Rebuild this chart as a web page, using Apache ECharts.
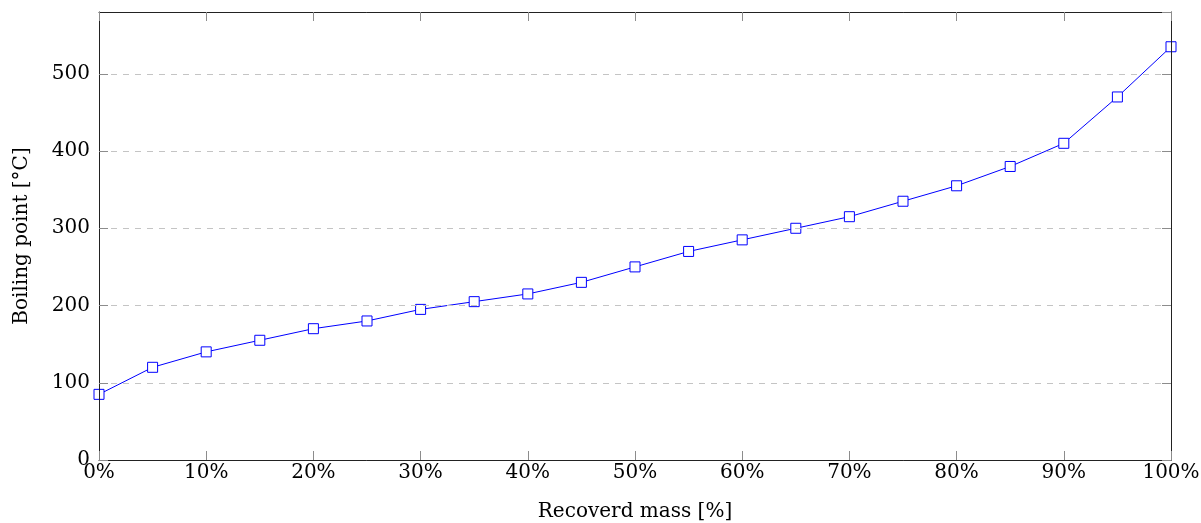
<!DOCTYPE html>
<html>
<head>
<meta charset="utf-8">
<script src="https://cdn.jsdelivr.net/npm/echarts@6/dist/echarts.min.js"></script>
<style>html,body{margin:0;padding:0;background:#fff;}#c{width:1201px;height:523px;}</style>
</head>
<body>
<div id="c"></div>
<script>
var massPct = [0,5,10,15,20,25,30,35,40,45,50,55,60,65,70,75,80,85,90,95,100];
var boilingPoint = [85,120,140,155,170,180,195,205,215,230,250,270,285,300,315,335,355,380,410,470,535];
var xTitle = 'Recoverd mass [%]';
var yTitle = 'Boiling point [°C]';

var font = 'DejaVu Serif';
var W = 1201, H = 523, L = 99, R = 30, T = 12, B = 63, TK = 9;
var chart = echarts.init(document.getElementById('c'), null, {renderer:'canvas'});
var data = massPct.map(function(x,i){return [x, boilingPoint[i]];});
function tickStyle(){ return {show:true, inside:true, length:TK, lineStyle:{color:'#8c8c8c', width:1}}; }
function lineStyle(){ return {show:true, onZero:false, lineStyle:{color:'#222', width:1}}; }
function hidden(type, gi, max){
  return {type:type, gridIndex:gi, min:0, max:max, show:false};
}
chart.setOption({
  animation:false,
  backgroundColor:'#fff',
  grid:[
    {left:L, right:R, top:T, bottom:B, containLabel:false, outerBoundsMode:'none'},
    {left:L, right:R, top:H-B-TK, height:TK, containLabel:false, outerBoundsMode:'none'}
  ],
  xAxis:[{
    type:'value', min:0, max:100, interval:10, position:'bottom',
    name:xTitle, nameLocation:'middle', nameGap:42,
    nameTextStyle:{fontFamily:font, fontSize:20, color:'#000'},
    axisLine:lineStyle(),
    axisTick:tickStyle(),
    axisLabel:{formatter:'{value}%', fontFamily:font, fontSize:20, color:'#000', margin:3},
    splitLine:{show:false}, z:5
  },{
    type:'value', min:0, max:100, interval:10, position:'top',
    axisLine:lineStyle(),
    axisTick:tickStyle(), axisLabel:{show:false}, splitLine:{show:false}, z:5
  },{
    type:'value', gridIndex:1, min:0, max:100, interval:10, position:'top',
    axisLine:{show:false, onZero:false},
    axisTick:tickStyle(), axisLabel:{show:false}, splitLine:{show:false}, z:5
  }],
  yAxis:[{
    type:'value', min:0, max:580, interval:100, position:'left',
    name:yTitle, nameLocation:'middle', nameGap:67, nameRotate:90,
    nameTextStyle:{fontFamily:font, fontSize:20, color:'#000'},
    axisLine:lineStyle(),
    axisTick:tickStyle(),
    axisLabel:{fontFamily:font, fontSize:20, color:'#000', margin:9, showMaxLabel:false},
    splitLine:{show:true, lineStyle:{color:'#c4c4c4', width:1, type:[6,6]}}, z:5
  },{
    type:'value', min:0, max:580, interval:100, position:'right',
    axisLine:lineStyle(),
    axisTick:tickStyle(), axisLabel:{show:false}, splitLine:{show:false}, z:5
  }, hidden('value', 1, 1)],
  series:[{
    type:'line', data:data, xAxisIndex:0, yAxisIndex:0,
    symbol:'rect', symbolSize:10,
    itemStyle:{color:'#fff', borderColor:'#0000ff', borderWidth:1},
    lineStyle:{color:'#0000ff', width:1},
    z:3
  }]
});
</script>
</body>
</html>
